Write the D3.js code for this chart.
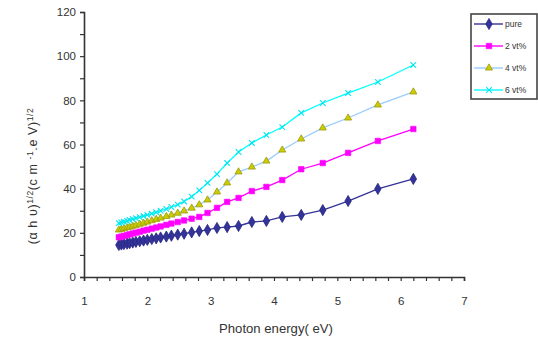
<!DOCTYPE html>
<html>
<head>
<meta charset="utf-8">
<script src="https://cdn.jsdelivr.net/npm/d3@7/dist/d3.min.js"></script>
<style>
  html, body { margin: 0; padding: 0; background: #fff; }
  svg { display: block; font-family: "Liberation Sans", Arial, sans-serif; }
</style>
</head>
<body>
<svg id="chart" width="538" height="340"></svg>
<script>
// Photon energy (eV) of each measured point
const energy = [1.55, 1.59, 1.63, 1.68, 1.72, 1.77, 1.82, 1.88, 1.94, 2.00, 2.07,
  2.14, 2.21, 2.30, 2.38, 2.48, 2.58, 2.70, 2.82, 2.95, 3.10, 3.26, 3.44, 3.65,
  3.88, 4.13, 4.43, 4.77, 5.17, 5.64, 6.20];

// (αhυ)^1/2 for each sample
const pure = [14.5, 14.7, 14.9, 15.1, 15.3, 15.6, 15.9, 16.2, 16.5, 16.8, 17.2,
  17.5, 17.9, 18.3, 18.7, 19.2, 19.6, 20.2, 20.8, 21.3, 22.2, 22.6, 23.1, 24.9,
  25.4, 27.2, 28.1, 30.3, 34.4, 39.9, 44.4];
const vt2 = [18.0, 18.3, 18.6, 19.0, 19.3, 19.7, 20.1, 20.5, 21.0, 21.4, 21.9,
  22.4, 22.9, 23.6, 24.2, 24.9, 25.6, 26.4, 27.2, 29.0, 31.3, 34.0, 35.8, 38.9,
  40.8, 43.9, 48.8, 51.6, 56.2, 61.6, 67.0];
const vt4 = [21.3, 21.6, 21.9, 22.3, 22.6, 23.0, 23.4, 23.9, 24.4, 24.9, 25.5,
  26.1, 26.7, 27.4, 28.1, 28.9, 29.9, 31.2, 32.7, 34.9, 38.5, 42.6, 47.6, 49.8,
  52.5, 57.5, 62.5, 67.5, 72.0, 77.9, 83.8];
const vt6 = [24.4, 24.7, 25.0, 25.4, 25.8, 26.2, 26.6, 27.1, 27.6, 28.1, 28.7,
  29.3, 30.0, 30.8, 31.7, 32.8, 34.2, 36.4, 39.2, 42.6, 46.6, 51.6, 56.6, 60.7,
  64.3, 67.9, 74.3, 78.8, 83.3, 88.3, 96.0];

const seriesNames = ["pure", "2 vt%", "4 vt%", "6 vt%"];
const xTicks = [1, 2, 3, 4, 5, 6, 7];
const yTicks = [0, 20, 40, 60, 80, 100, 120];

const series = [
  { name: seriesNames[0], values: pure, line: "#333399", fill: "#333399", stroke: "#262680", shape: "diamond" },
  { name: seriesNames[1], values: vt2, line: "#ff00ff", fill: "#ff00ff", stroke: "#ff00ff", shape: "square" },
  { name: seriesNames[2], values: vt4, line: "#99ccff", fill: "#cccc00", stroke: "#9a9a10", shape: "triangle" },
  { name: seriesNames[3], values: vt6, line: "#00ffff", fill: "none", stroke: "#00e5f0", shape: "cross" }
];

const svg = d3.select("#chart");
const x = d3.scaleLinear().domain([1, 7]).range([84, 464]);
const y = d3.scaleLinear().domain([0, 120]).range([277, 12]);
const axisColor = "#333";

// X axis: major ticks every 1 eV, minor every 0.2 eV, ticks pointing down
const gx = svg.append("g").attr("transform", `translate(0,${y(0)})`);
gx.call(d3.axisBottom(x).tickValues(d3.range(1, 7.001, 0.2)).tickSize(4).tickFormat(""));
gx.append("g").call(d3.axisBottom(x).tickValues(xTicks).tickSize(0).tickPadding(20)
  .tickFormat(d3.format("d")))
  .call(g => g.select(".domain").remove());
gx.selectAll(".domain").attr("stroke", axisColor).attr("stroke-width", 1.6);
gx.selectAll(".tick line").attr("stroke", axisColor).attr("stroke-width", 1.2);
gx.selectAll("text").attr("fill", "#333").attr("font-size", "11.5px")
  .attr("font-family", "'Liberation Sans', Arial, sans-serif");

// Y axis: major ticks every 20, minor every 10, ticks pointing left
const gy = svg.append("g").attr("transform", `translate(${x(1)},0)`);
gy.call(d3.axisLeft(y).tickValues(d3.range(0, 121, 10)).tickSize(4).tickFormat(""));
gy.append("g").call(d3.axisLeft(y).tickValues(yTicks).tickSize(0).tickPadding(8)
  .tickFormat(d3.format("d")))
  .call(g => g.select(".domain").remove());
gy.selectAll(".domain").attr("stroke", axisColor).attr("stroke-width", 1.6);
gy.selectAll(".tick line").attr("stroke", axisColor).attr("stroke-width", 1.2);
gy.selectAll("text").attr("fill", "#333").attr("font-size", "11.5px")
  .attr("font-family", "'Liberation Sans', Arial, sans-serif");

// Axis titles
svg.append("text")
  .attr("x", 276).attr("y", 333)
  .attr("text-anchor", "middle")
  .attr("font-size", "12.5px").attr("fill", "#333")
  .attr("textLength", 114).attr("lengthAdjust", "spacingAndGlyphs")
  .text("Photon energy( eV)");

const yTitle = svg.append("text")
  .attr("transform", "translate(37,176) rotate(-90)")
  .attr("text-anchor", "middle")
  .attr("font-size", "12.5px").attr("letter-spacing", "0.6px").attr("fill", "#333");
yTitle.append("tspan").text("(α h υ)");
yTitle.append("tspan").attr("dy", -4).attr("font-size", "8.5px").text("1/2");
yTitle.append("tspan").attr("dy", 4).text("(c m ");
yTitle.append("tspan").attr("dy", -4).attr("font-size", "8.5px").text("-1");
yTitle.append("tspan").attr("dy", 4).text(".e V)");
yTitle.append("tspan").attr("dy", -4).attr("font-size", "8.5px").text("1/2");

// Marker shapes
function drawMarker(sel, s, cx, cy) {
  if (s.shape === "diamond") {
    sel.append("path")
      .attr("d", d3.symbol(d3.symbolDiamond, 36)())
      .attr("transform", `translate(${cx},${cy})`)
      .attr("fill", s.fill).attr("stroke", s.stroke).attr("stroke-width", 0.8);
  } else if (s.shape === "square") {
    sel.append("path")
      .attr("d", d3.symbol(d3.symbolSquare, 30)())
      .attr("transform", `translate(${cx},${cy})`)
      .attr("fill", s.fill).attr("stroke", s.stroke).attr("stroke-width", 0.6);
  } else if (s.shape === "triangle") {
    sel.append("path")
      .attr("d", d3.symbol(d3.symbolTriangle, 22)())
      .attr("transform", `translate(${cx},${cy})`)
      .attr("fill", s.fill).attr("stroke", s.stroke).attr("stroke-width", 0.8);
  } else {
    sel.append("path")
      .attr("d", d3.symbol(d3.symbolTimes, 22)())
      .attr("transform", `translate(${cx},${cy})`)
      .attr("fill", "none").attr("stroke", s.stroke).attr("stroke-width", 1.1);
  }
}

// Series lines and markers
const line = d3.line().x(d => x(d[0])).y(d => y(d[1]));
series.forEach(s => {
  const pts = energy.map((e, i) => [e, s.values[i]]);
  const g = svg.append("g");
  g.append("path").datum(pts).attr("d", line)
    .attr("fill", "none").attr("stroke", s.line).attr("stroke-width", 1.3);
  pts.forEach(p => drawMarker(g, s, x(p[0]), y(p[1])));
});

// Legend
const lg = svg.append("g");
lg.append("rect").attr("x", 471).attr("y", 14).attr("width", 66).attr("height", 85)
  .attr("fill", "#fff").attr("stroke", "#444").attr("stroke-width", 1.6);
series.forEach((s, i) => {
  const ly = 24 + i * 22;
  lg.append("line").attr("x1", 474).attr("x2", 503).attr("y1", ly).attr("y2", ly)
    .attr("stroke", s.line).attr("stroke-width", 1.4);
  drawMarker(lg, s, 489, ly);
  lg.append("text").attr("x", 505).attr("y", ly + 3)
    .attr("font-size", "8.5px").attr("fill", "#333").text(s.name);
});
</script>
</body>
</html>
